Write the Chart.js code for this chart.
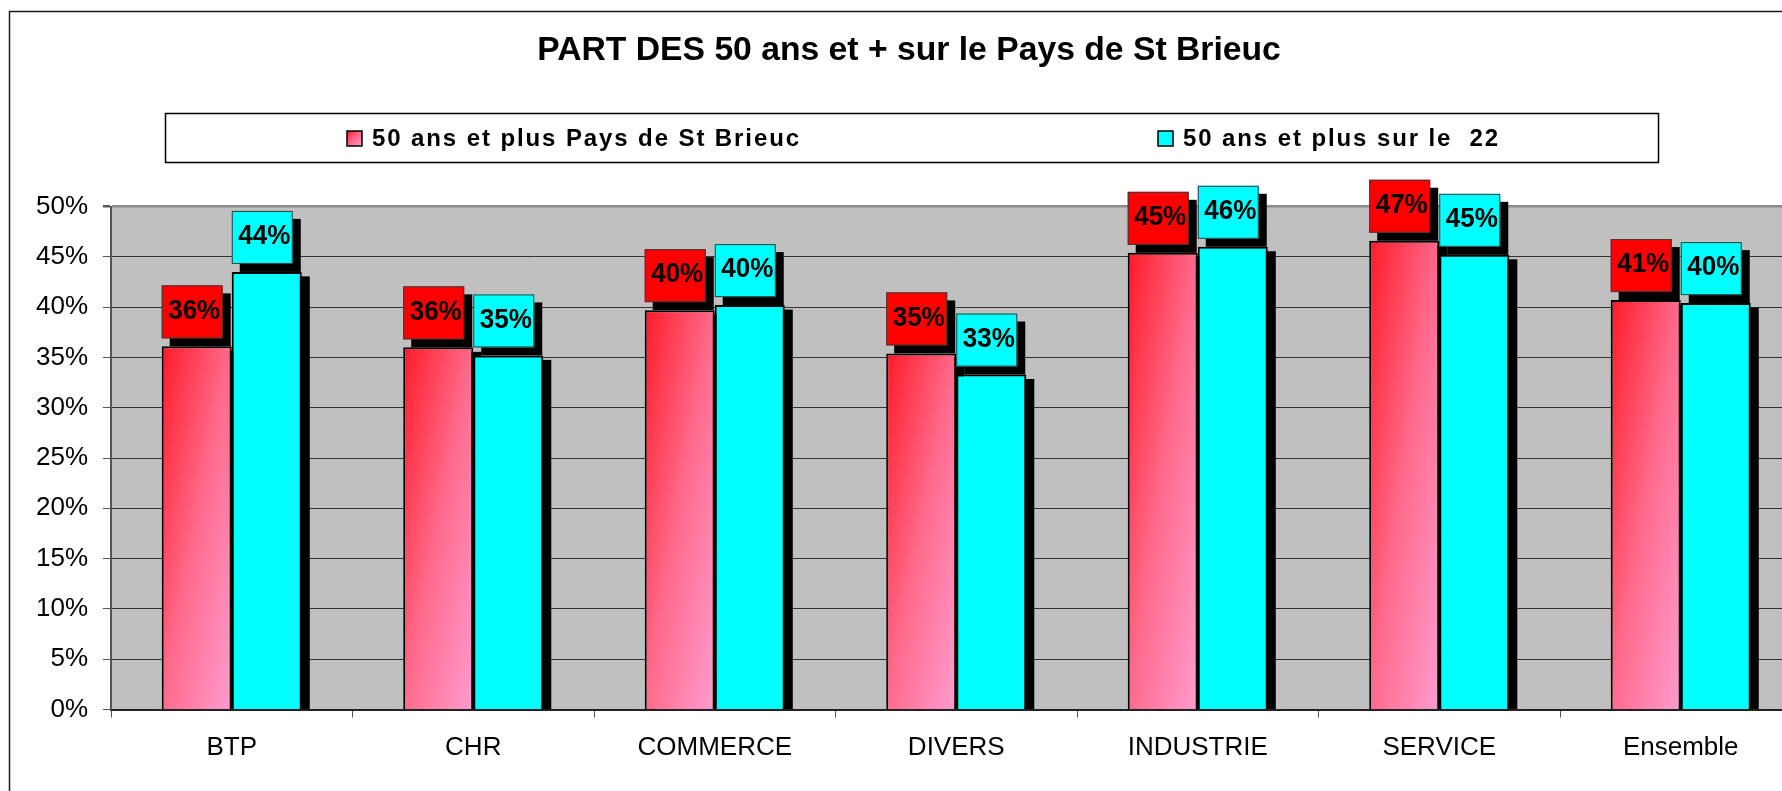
<!DOCTYPE html>
<html>
<head>
<meta charset="utf-8">
<title>PART DES 50 ans et + sur le Pays de St Brieuc</title>
<script src="https://cdn.jsdelivr.net/npm/chart.js@4.4.1/dist/chart.umd.min.js"></script>
<style>
  html, body { margin: 0; padding: 0; background: #fff; overflow: hidden; }
  #wrap { position: absolute; left: 0; top: 0; width: 1830px; height: 791px; }
</style>
</head>
<body>
<div id="wrap"><canvas id="chart"></canvas></div>
<script>
/* ================= DATA ================= */
const chartTitle = "PART DES 50 ans et + sur le Pays de St Brieuc";
const categories = ["BTP", "CHR", "COMMERCE", "DIVERS", "INDUSTRIE", "SERVICE", "Ensemble"];
const seriesNames = ["50 ans et plus Pays de St Brieuc", "50 ans et plus sur le  22"];
const paysValues = [36.1, 36.0, 39.7, 35.4, 45.4, 46.6, 40.7];
const dep22Values = [43.5, 35.2, 40.2, 33.3, 46.0, 45.2, 40.4];
const yMin = 0;
const yMax = 50;
const yStep = 5;

/* ================= STYLE ================= */
const FONT = "'Liberation Sans', Arial, Helvetica, sans-serif";
const CAT_PCT = 0.58;
const CYAN = "#00ffff";
const RED_BOX = "#ff0000";

// excel style "diagonal" gradient: colour follows (u + v) / 2 inside the box
function diagGradient(ctx, x, y, w, h) {
  const k = 2 / (1 / (w * w) + 1 / (h * h));
  const g = ctx.createLinearGradient(x, y, x + k / w, y + k / h);
  g.addColorStop(0, "#ff1a28");
  g.addColorStop(0.5, "#ff6a8c");
  g.addColorStop(1, "#ff9ccf");
  return g;
}

function redFill(c) {
  const chart = c.chart;
  const xs = chart.scales.x, ys = chart.scales.y;
  if (c.type !== "data" || !xs || !ys || !chart.chartArea) return "#ff5070";
  const barW = (xs.width / categories.length) * CAT_PCT / 2;
  const left = xs.getPixelForValue(c.dataIndex) - barW;
  const top = ys.getPixelForValue(c.raw);
  const bottom = ys.getPixelForValue(0);
  return diagGradient(chart.ctx, left, top, barW, Math.max(bottom - top, 1));
}

/* ================= PLUGINS ================= */
const framePlugin = {
  id: "frame",
  beforeDraw(chart) {
    const { ctx, chartArea: a } = chart;
    ctx.save();
    ctx.fillStyle = "#fff";
    ctx.fillRect(0, 0, chart.width, chart.height);
    ctx.strokeStyle = "#1a1a1a";
    ctx.lineWidth = 1.5;
    ctx.strokeRect(9.5, 11.5, 1803, 800);
    ctx.fillStyle = "#c0c0c0";
    ctx.fillRect(a.left, a.top, a.right - a.left, a.bottom - a.top);
    ctx.restore();
  },
};

// black drop shadow behind every bar
const shadowPlugin = {
  id: "barShadow",
  beforeDatasetsDraw(chart) {
    const ctx = chart.ctx;
    ctx.save();
    ctx.fillStyle = "#000";
    chart.data.datasets.forEach((ds, i) => {
      chart.getDatasetMeta(i).data.forEach((bar) => {
        const p = bar.getProps(["x", "y", "base", "width"], true);
        const left = p.x - p.width / 2;
        ctx.fillRect(left + 8, p.y + 4.5, p.width, p.base - p.y - 4.5);
      });
    });
    ctx.restore();
  },
};

// value boxes above the bars
const labelPlugin = {
  id: "valueBoxes",
  afterDatasetsDraw(chart) {
    const ctx = chart.ctx;
    const boxW = 61, boxH = 53, gap = 8;
    const fills = [RED_BOX, CYAN];
    ctx.save();
    chart.data.datasets.forEach((ds, i) => {
      chart.getDatasetMeta(i).data.forEach((bar, j) => {
        const p = bar.getProps(["x", "y", "width"], true);
        const left = p.x - p.width / 2;
        const top = p.y - gap - boxH;
        ctx.fillStyle = "#000";
        ctx.fillRect(left + 8, top + 8, boxW, boxH);
        ctx.fillStyle = fills[i];
        ctx.fillRect(left, top, boxW, boxH);
        ctx.strokeStyle = "#3a3a3a";
        ctx.lineWidth = 1;
        ctx.strokeRect(left + 0.5, top + 0.5, boxW - 1, boxH - 1);
        // slightly narrowed bold digits, like the original
        ctx.save();
        ctx.translate(left + boxW / 2 + 2, top + boxH / 2 - 1);
        ctx.scale(0.93, 1);
        ctx.fillStyle = "#000";
        ctx.font = "bold 28px " + FONT;
        ctx.textAlign = "center";
        ctx.textBaseline = "middle";
        ctx.fillText(Math.round(ds.data[j]) + "%", 0, 0);
        ctx.restore();
      });
    });
    ctx.restore();
  },
};

// legend box across the top, items spread wide like the original
const legendPlugin = {
  id: "wideLegend",
  afterDraw(chart) {
    const ctx = chart.ctx;
    const markerX = [347, 1158];
    ctx.save();
    ctx.fillStyle = "#fff";
    ctx.fillRect(165.5, 113.5, 1493, 49);
    ctx.strokeStyle = "#000";
    ctx.lineWidth = 1.5;
    ctx.strokeRect(165.5, 113.5, 1493, 49);
    chart.data.datasets.forEach((ds, i) => {
      const x = markerX[i], y = 131, s = 15;
      ctx.fillStyle = i === 0 ? diagGradient(ctx, x, y, s, s) : CYAN;
      ctx.fillRect(x, y, s, s);
      ctx.strokeStyle = "#000";
      ctx.lineWidth = 1.5;
      ctx.strokeRect(x, y, s, s);
      ctx.fillStyle = "#000";
      ctx.font = "bold 24px " + FONT;
      ctx.letterSpacing = "1.9px";
      ctx.textAlign = "left";
      ctx.textBaseline = "alphabetic";
      ctx.fillText(ds.label, x + 25, 145.5);
      ctx.letterSpacing = "0px";
    });
    ctx.restore();
  },
};

/* ================= CHART ================= */
new Chart(document.getElementById("chart"), {
  type: "bar",
  data: {
    labels: categories,
    datasets: [
      {
        label: seriesNames[0],
        data: paysValues,
        backgroundColor: redFill,
        borderColor: "#000",
        borderWidth: 2,
      },
      {
        label: seriesNames[1],
        data: dep22Values,
        backgroundColor: CYAN,
        borderColor: "#000",
        borderWidth: 2,
      },
    ],
  },
  options: {
    responsive: true,
    maintainAspectRatio: false,
    animation: false,
    layout: { padding: { left: 16.5, right: 28.5, top: 0, bottom: 0 } },
    datasets: { bar: { categoryPercentage: CAT_PCT, barPercentage: 1 } },
    plugins: {
      legend: { display: false },
      tooltip: { enabled: false },
      title: {
        display: true,
        text: chartTitle,
        color: "#000",
        font: { family: FONT, size: 33.7, weight: "bold" },
        padding: { top: 30.1, bottom: 136 },
      },
    },
    scales: {
      x: {
        grid: { offset: true, drawOnChartArea: false, tickLength: 8, color: "#555" },
        border: { color: "#222", width: 2 },
        ticks: {
          color: "#000",
          font: { family: FONT, size: 26 },
          padding: 15,
          maxRotation: 0,
          autoSkip: false,
        },
        afterFit: (s) => { s.height = 791 - 709.5; },
      },
      y: {
        min: yMin,
        max: yMax,
        ticks: {
          stepSize: yStep,
          color: "#000",
          font: { family: FONT, size: 26 },
          padding: 15,
          callback: (v) => v + "%",
        },
        grid: {
          color: (c) => (c.tick && c.tick.value === yMax ? "#8c8c8c" : "#333"),
          lineWidth: (c) => (c.tick && c.tick.value === yMax ? 2.5 : 1),
          tickLength: 8,
          tickColor: "#555",
        },
        border: { color: "#555", width: 2 },
        afterFit: (s) => { s.width = 111 - 16.5; },
      },
    },
  },
  plugins: [framePlugin, shadowPlugin, labelPlugin, legendPlugin],
});
</script>
</body>
</html>
